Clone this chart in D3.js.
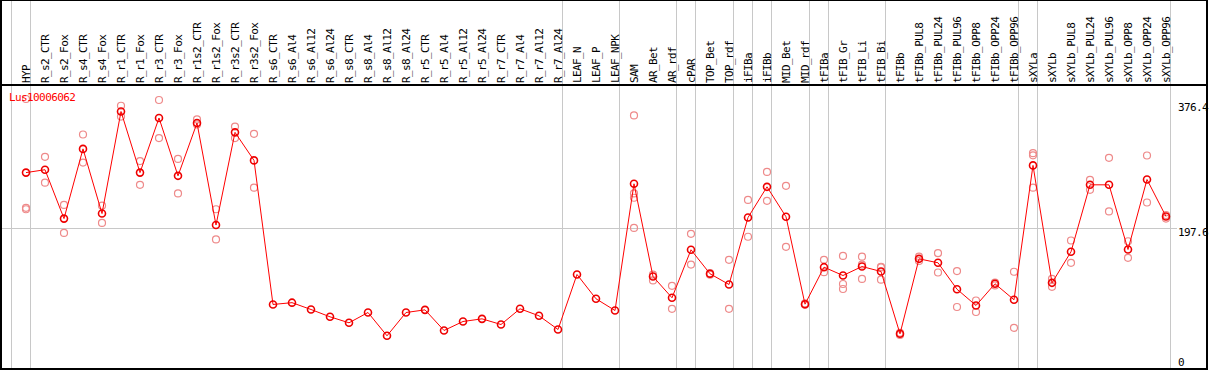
<!DOCTYPE html>
<html><head><meta charset="utf-8">
<script src="https://cdn.jsdelivr.net/npm/d3@7"></script>
<style>
html,body{margin:0;padding:0;background:#fff;}
svg{display:block;}
text{font-family:"DejaVu Sans Mono",monospace;font-size:11px;letter-spacing:-0.6px;}
</style></head>
<body><svg id="chart" width="1209" height="370"></svg>
<script>
const title = "Lus10006062";
const categories = ["HYP","R_s2_CTR","R_s2_Fox","R_s4_CTR","R_s4_Fox","R_r1_CTR","R_r1_Fox","R_r3_CTR","R_r3_Fox","R_r1s2_CTR","R_r1s2_Fox","R_r3s2_CTR","R_r3s2_Fox","R_s6_CTR","R_s6_Al4","R_s6_Al12","R_s6_Al24","R_s8_CTR","R_s8_Al4","R_s8_Al12","R_s8_Al24","R_r5_CTR","R_r5_Al4","R_r5_Al12","R_r5_Al24","R_r7_CTR","R_r7_Al4","R_r7_Al12","R_r7_Al24","LEAF_N","LEAF_P","LEAF_NPK","SAM","AR_Bet","AR_rdf","cPAR","TOP_Bet","TOP_rdf","iFIBa","iFIBb","MID_Bet","MID_rdf","tFIBa","tFIB_Gr","tFIB_Li","tFIB_Bi","tFIBb","tFIBb_PUL8","tFIBb_PUL24","tFIBb_PUL96","tFIBb_OPP8","tFIBb_OPP24","tFIBb_OPP96","sXYLa","sXYLb","sXYLb_PUL8","sXYLb_PUL24","sXYLb_PUL96","sXYLb_OPP8","sXYLb_OPP24","sXYLb_OPP96"];
const means = [274,278,210,307,217,359,274,350,269.5,343,201,330,291,
  90.5,93,83.5,73.3,65,79.3,46.9,79.3,83,54.3,66.8,70.5,62.6,84.5,74.7,55.7,
  132.2,98.4,82.1,
  258.4,129.4,99.8,166.6,133.2,118.3,211.5,254.2,212.5,90.9,142.4,130.8,143.3,136.4,49.7,154,148.5,111.7,89.1,119.3,97,284,120.6,163.8,257,257,167,264.4,212.9];
const replicates = [[376.4,225,223],[296,260],[229,190],[327,288],[228,204],[367,352],[290,257],[375,322],[293,245],[348,341],[223,181],[338,322],[328,253],
  [],[],[],[],[],[],[],[],[],[],[],[],[],[],[],[],
  [],[],[],
  [353.5,245,239,197],[132,124],[116.5,84.5],[188.8,146],[134,132],[152.6,84.5],[236,184.7],[275,234.7],[255.6,170.7],[92,90],[152.6,135.4],[158,119,112],[157,146,126],[143,142,125],[51,48],[157,151],[162,135],[137,87],[96,80],[121,117],[136,58],[301,298,253],[126,115],[179.5,148.5],[264,250],[294.6,219.9],[178.5,155.4],[297.8,232.4],[215,210]];
const groupEnds = [-1,0,28,31,34,35,37,38,39,41,42,45,52,53,60];
const yTicks = [0,197.6,376.4];

const svg = d3.select("#chart");
const x = d3.scaleLinear().domain([0, categories.length-1]).range([26, 1166]);
const y = d3.scaleLinear().domain([0, 395.2]).range([369.5, 85.5]);

// separators
svg.append("g").selectAll("line").data(groupEnds).join("line")
  .attr("x1", d => x(d)+4.5).attr("x2", d => x(d)+4.5)
  .attr("y1", 0).attr("y2", 370).attr("stroke", "#c8c8c8").attr("stroke-width", 1);
// horizontal mid gridline
const gy = Math.round(y(yTicks[1])) + 0.5;
svg.append("line").attr("x1", 1).attr("x2", 1177).attr("y1", gy).attr("y2", gy)
  .attr("stroke", "#c8c8c8").attr("stroke-width", 1);

// borders
const border = svg.append("g").attr("stroke", "#000").attr("stroke-width", 2);
border.append("line").attr("x1",0).attr("x2",1208).attr("y1",0).attr("y2",0);
border.append("line").attr("x1",0).attr("x2",1208).attr("y1",85).attr("y2",85);
border.append("line").attr("x1",0).attr("x2",1208).attr("y1",369).attr("y2",369);
border.append("line").attr("x1",1).attr("x2",1).attr("y1",0).attr("y2",370);
border.append("line").attr("x1",1207).attr("x2",1207).attr("y1",0).attr("y2",370);

// category labels
svg.append("g").selectAll("text").data(categories).join("text")
  .attr("transform", (d,i) => `translate(${x(i)+4},83) rotate(-90)`)
  .attr("text-anchor", "start").attr("fill", "#000").text(d => d);

// replicate points
const repPts = [];
replicates.forEach((arr,i) => arr.forEach(v => repPts.push({i, v})));
svg.append("g").selectAll("circle").data(repPts).join("circle")
  .attr("cx", d => x(d.i)).attr("cy", d => y(d.v)).attr("r", 3.5)
  .attr("fill", "none").attr("stroke", "#ee8a8a").attr("stroke-width", 1.2);

// mean line
svg.append("path").datum(means)
  .attr("d", d3.line().x((d,i) => x(i)).y(d => y(d)))
  .attr("fill", "none").attr("stroke", "#ff0000").attr("stroke-width", 1);
svg.append("g").selectAll("circle").data(means).join("circle")
  .attr("cx", (d,i) => x(i)).attr("cy", d => y(d)).attr("r", 3.5)
  .attr("fill", "none").attr("stroke", "#ee0000").attr("stroke-width", 1.6);

// title
svg.append("text").attr("x", 9).attr("y", 101).attr("fill", "#ff0000").text(title);

// right axis labels
const axis = d3.axisRight(y).tickValues(yTicks).tickSize(0).tickPadding(0).tickFormat(d => String(d));
const ag = svg.append("g").attr("transform", "translate(1178,0)").call(axis);
ag.select(".domain").remove();
const offs = {0: -3.8, 197.6: 8.2, 376.4: 11.7};
ag.selectAll("text").attr("dy", null).attr("x", 0)
  .attr("y", d => offs[d]).attr("fill", "#000")
  .style("font-family", "'DejaVu Sans Mono',monospace").style("font-size", "11px");
</script></body></html>
